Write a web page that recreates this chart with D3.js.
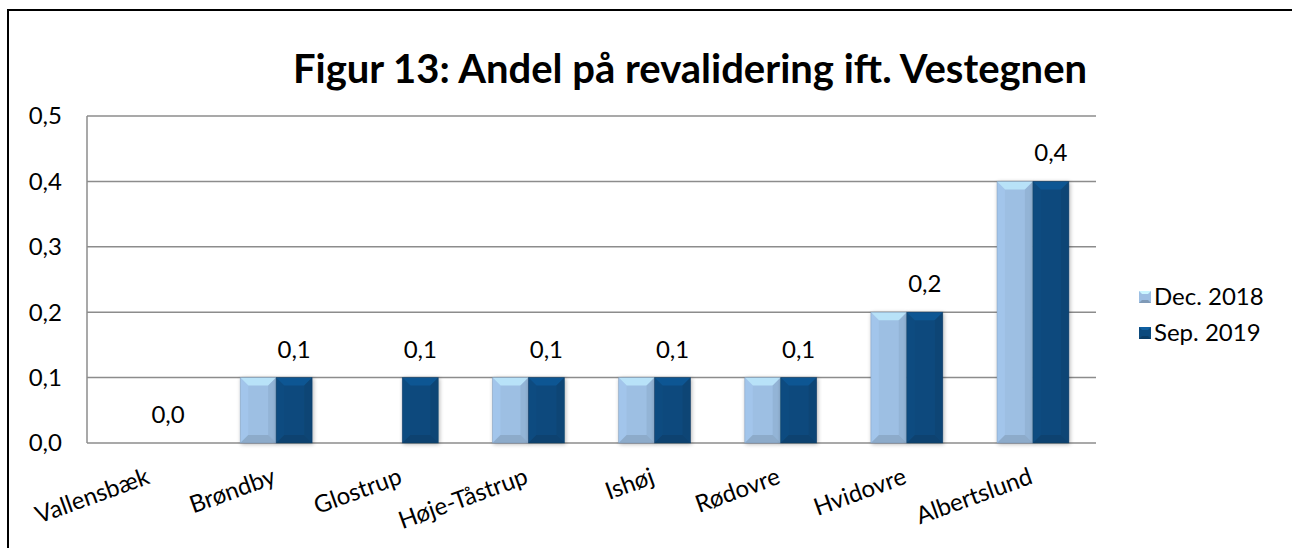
<!DOCTYPE html>
<html>
<head>
<meta charset="utf-8">
<script src="https://cdn.jsdelivr.net/npm/d3@7"></script>
<style>
  body { margin: 0; background: #fff; }
  svg { display: block; font-family: Lato, Calibri, sans-serif; }
</style>
</head>
<body>
<div id="chart"></div>
<script>
const categories = ["Vallensbæk", "Brøndby", "Glostrup", "Høje-Tåstrup", "Ishøj", "Rødovre", "Hvidovre", "Albertslund"];
const seriesNames = ["Dec. 2018", "Sep. 2019"];
const dec2018 = [0.0, 0.1, 0.0, 0.1, 0.1, 0.1, 0.2, 0.4];
const sep2019 = [0.0, 0.1, 0.1, 0.1, 0.1, 0.1, 0.2, 0.4];
const yTicks = [0, 0.1, 0.2, 0.3, 0.4, 0.5];
const titleText = "Figur 13: Andel på revalidering ift. Vestegnen";

const width = 1292, height = 548;
const margin = { top: 116, right: 196, bottom: 105, left: 87 };
const colors = ["#9dbfe3", "#0c4a7d"];
const fontSize = 24;

const svg = d3.select("#chart").append("svg").attr("width", width).attr("height", height);

const locale = d3.formatLocale({ decimal: ",", thousands: ".", grouping: [3], currency: ["", " kr."] });
const fmt = locale.format(".1f");

const defs = svg.append("defs");
const shadow = defs.append("filter").attr("id", "shadow").attr("x", "-30%").attr("y", "-10%").attr("width", "160%").attr("height", "120%");
shadow.append("feGaussianBlur").attr("in", "SourceAlpha").attr("stdDeviation", 2);
shadow.append("feOffset").attr("dx", 1).attr("dy", 1).attr("result", "b");
shadow.append("feComponentTransfer").append("feFuncA").attr("type", "linear").attr("slope", 0.3);
const merge = shadow.append("feMerge");
merge.append("feMergeNode");
merge.append("feMergeNode").attr("in", "SourceGraphic");

// outer frame
svg.append("path")
    .attr("d", `M8,${height} L8,10 L${width},10`)
    .attr("fill", "none").attr("stroke", "#000").attr("stroke-width", 2);

svg.append("text")
    .attr("x", 690).attr("y", 83)
    .attr("text-anchor", "middle")
    .attr("font-weight", "bold").attr("font-size", 40)
    .attr("fill", "#000")
    .text(titleText);

const x0 = d3.scaleBand().domain(categories).range([margin.left, width - margin.right]).paddingInner(0.43).paddingOuter(0.215);
const x1 = d3.scaleBand().domain(seriesNames).range([0, x0.bandwidth()]);
const y = d3.scaleLinear().domain([0, 0.5]).range([height - margin.bottom, margin.top]);

// gridlines
svg.append("g").selectAll("line").data(yTicks).join("line")
    .attr("x1", margin.left).attr("x2", width - margin.right)
    .attr("y1", d => y(d)).attr("y2", d => y(d))
    .attr("stroke", "#8c8c8c").attr("stroke-width", 1.5);

svg.append("line")
    .attr("x1", margin.left).attr("x2", margin.left)
    .attr("y1", y(0.5)).attr("y2", y(0))
    .attr("stroke", "#8c8c8c").attr("stroke-width", 1.5);

// y labels
svg.append("g").selectAll("text").data(yTicks).join("text")
    .attr("x", 62).attr("y", d => y(d))
    .attr("dy", "0.35em")
    .attr("text-anchor", "end")
    .attr("font-size", fontSize).attr("fill", "#000")
    .text(d => fmt(d));

// bars with bevel
const bev = 8;
function drawBar(g, bx, by, bw, bh, color) {
    if (bh <= 0) return;
    const b = Math.min(bev, bh / 2);
    const grp = g.append("g").attr("filter", "url(#shadow)");
    grp.append("rect").attr("x", bx).attr("y", by).attr("width", bw).attr("height", bh).attr("fill", color);
    const c = d3.color(color);
    grp.append("path")
        .attr("d", `M${bx},${by} L${bx + bw},${by} L${bx + bw - b},${by + b} L${bx + b},${by + b} Z`)
        .attr("fill", c.brighter(0.6)).attr("opacity", 0.75);
    grp.append("path")
        .attr("d", `M${bx},${by} L${bx + b},${by + b} L${bx + b},${by + bh - b} L${bx},${by + bh} Z`)
        .attr("fill", c.brighter(0.2)).attr("opacity", 0.45);
    grp.append("path")
        .attr("d", `M${bx + bw},${by} L${bx + bw - b},${by + b} L${bx + bw - b},${by + bh - b} L${bx + bw},${by + bh} Z`)
        .attr("fill", c.darker(0.4)).attr("opacity", 0.45);
    grp.append("path")
        .attr("d", `M${bx},${by + bh} L${bx + bw},${by + bh} L${bx + bw - b},${by + bh - b} L${bx + b},${by + bh - b} Z`)
        .attr("fill", c.darker(0.6)).attr("opacity", 0.55);
    grp.append("rect").attr("x", bx).attr("y", by).attr("width", bw).attr("height", bh)
        .attr("fill", "none").attr("stroke", c.darker(0.8)).attr("stroke-width", 0.8).attr("opacity", 0.5);
}

const barsG = svg.append("g");
const seriesData = [dec2018, sep2019];
categories.forEach((cat, i) => {
    seriesData.forEach((vals, s) => {
        const v = vals[i];
        const bx = x0(cat) + x1(seriesNames[s]);
        drawBar(barsG, bx, y(v), x1.bandwidth(), y(0) - y(v), colors[s]);
    });
});

// data labels on Sep. 2019
svg.append("g").selectAll("text").data(categories).join("text")
    .attr("x", (d) => x0(d) + x1(seriesNames[1]) + x1.bandwidth() / 2)
    .attr("y", (d, i) => y(sep2019[i]) - 20)
    .attr("text-anchor", "middle")
    .attr("font-size", fontSize).attr("fill", "#000")
    .text((d, i) => fmt(sep2019[i]));

// x labels
svg.append("g").selectAll("text").data(categories).join("text")
    .attr("transform", d => `translate(${x0(d) + x0.bandwidth() / 2 + 1},${y(0) + 40}) rotate(-20)`)
    .attr("text-anchor", "end")
    .attr("font-size", fontSize).attr("fill", "#000")
    .text(d => d);

// legend
const legend = svg.append("g").attr("transform", "translate(1139,297)");
seriesNames.forEach((name, i) => {
    const g = legend.append("g").attr("transform", `translate(0,${i * 36})`);
    const c = d3.color(colors[i]);
    g.append("rect").attr("x", 0).attr("y", -6).attr("width", 12).attr("height", 12).attr("fill", colors[i]);
    g.append("path").attr("d", "M0,-6 L12,-6 L9,-3 L3,-3 Z").attr("fill", c.brighter(0.7));
    g.append("path").attr("d", "M0,6 L12,6 L9,3 L3,3 Z").attr("fill", c.darker(0.6));
    g.append("text").attr("x", 15).attr("y", 0).attr("dy", "0.35em")
        .attr("font-size", fontSize).attr("fill", "#000").text(name);
});
</script>
</body>
</html>
